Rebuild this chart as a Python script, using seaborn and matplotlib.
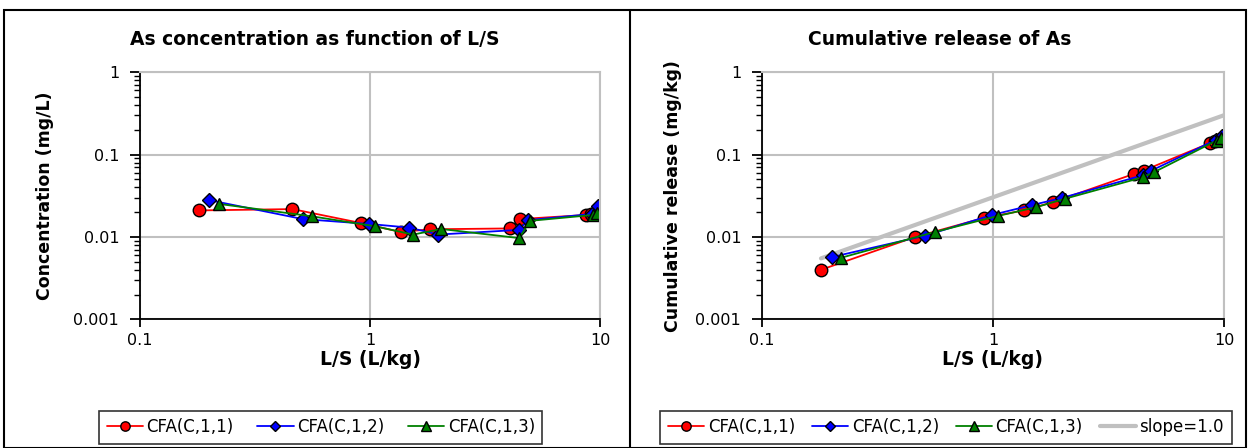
import numpy as np
import pandas as pd
import matplotlib
matplotlib.use("Agg")
import matplotlib.pyplot as plt
import seaborn as sns
from matplotlib.ticker import LogLocator, FuncFormatter, NullFormatter, NullLocator

# data
samples = ["CFA(C,1,1)", "CFA(C,1,2)", "CFA(C,1,3)"]

ls_1 = [0.18, 0.46, 0.91, 1.36, 1.82, 4.06, 4.49, 8.7, 9.1]
ls_2 = [0.20, 0.51, 0.99, 1.48, 1.98, 4.45, 4.85, 9.2, 9.8]
ls_3 = [0.22, 0.56, 1.05, 1.54, 2.04, 4.45, 4.97, 9.3, 9.7]

conc_1 = [0.021, 0.0218, 0.0148, 0.0115, 0.0124, 0.0127, 0.0165, 0.0185, 0.0192]
conc_2 = [0.028, 0.0165, 0.0144, 0.0130, 0.0107, 0.0122, 0.0160, 0.0190, 0.0240]
conc_3 = [0.0252, 0.0178, 0.0135, 0.0107, 0.0125, 0.0097, 0.0157, 0.0185, 0.0195]

cum_1 = [0.0040, 0.0100, 0.0170, 0.0210, 0.0265, 0.058, 0.064, 0.138, 0.145]
cum_2 = [0.0057, 0.0104, 0.0185, 0.0244, 0.0297, 0.056, 0.064, 0.150, 0.170]
cum_3 = [0.0056, 0.0115, 0.0180, 0.0230, 0.0290, 0.053, 0.061, 0.148, 0.158]

slope_x = [0.18, 10]
slope_y = [0.0055, 0.30]

colors = {"CFA(C,1,1)": "#ff0000", "CFA(C,1,2)": "#0000ff", "CFA(C,1,3)": "#008000"}
markers = {"CFA(C,1,1)": "o", "CFA(C,1,2)": "D", "CFA(C,1,3)": "^"}
msizes = {"CFA(C,1,1)": 9, "CFA(C,1,2)": 7, "CFA(C,1,3)": 9}

rows = []
for s, ls, c, cu in zip(samples, [ls_1, ls_2, ls_3], [conc_1, conc_2, conc_3], [cum_1, cum_2, cum_3]):
    for i in range(len(ls)):
        rows.append({"sample": s, "order": i, "ls": ls[i], "conc": c[i], "cum": cu[i]})
df = pd.DataFrame(rows)

sns.set_style("white")
plt.rcParams["font.family"] = ["DejaVu Sans"]
plt.rcParams["text.color"] = "black"
plt.rcParams["axes.labelcolor"] = "black"
plt.rcParams["xtick.color"] = "black"
plt.rcParams["ytick.color"] = "black"

fig = plt.figure(figsize=(12.5, 4.48), dpi=100)
ax1 = fig.add_axes([0.112, 0.287, 0.368, 0.552])
ax2 = fig.add_axes([0.6096, 0.287, 0.3696, 0.552])

fmt = FuncFormatter(lambda v, p: "{:g}".format(v))


def draw(ax, ycol):
    for s in samples:
        d = df[df["sample"] == s]
        sns.lineplot(data=d, x="ls", y=ycol, sort=False, ax=ax, color=colors[s],
                     marker=markers[s], markersize=msizes[s], markeredgecolor="black",
                     markeredgewidth=1, linewidth=1.3, label=s, estimator=None)
    ax.set_xscale("log")
    ax.set_yscale("log")
    ax.set_xlim(0.1, 10)
    ax.set_ylim(0.001, 1)
    ax.xaxis.set_major_locator(LogLocator(base=10, numticks=10))
    ax.yaxis.set_major_locator(LogLocator(base=10, numticks=10))
    ax.yaxis.set_minor_locator(LogLocator(base=10, subs=np.arange(2, 10), numticks=10))
    ax.xaxis.set_minor_locator(NullLocator())
    ax.yaxis.set_minor_formatter(NullFormatter())
    ax.xaxis.set_major_formatter(fmt)
    ax.yaxis.set_major_formatter(fmt)
    ax.grid(True, which="major", color="#c0c0c0", linewidth=1.5)
    for side in ["top", "right"]:
        ax.spines[side].set_color("#c0c0c0")
        ax.spines[side].set_linewidth(1.5)
    for side in ["left", "bottom"]:
        ax.spines[side].set_color("black")
        ax.spines[side].set_linewidth(1.3)
    ax.tick_params(axis="y", which="major", direction="out", length=7, width=1.3,
                   left=True, labelsize=11.5, pad=8)
    ax.tick_params(axis="y", which="minor", direction="out", length=4, width=1, left=True)
    ax.tick_params(axis="x", which="major", direction="out", length=6, width=1.3,
                   bottom=True, labelsize=11.5, pad=4)
    ax.set_axisbelow(True)


draw(ax1, "conc")
ax1.set_xlabel("L/S (L/kg)", fontsize=13.5, fontweight="bold", labelpad=1)
ax1.set_ylabel("Concentration (mg/L)", fontsize=12.5, fontweight="bold", labelpad=14)

draw(ax2, "cum")
sns.lineplot(x=slope_x, y=slope_y, ax=ax2, color="#c0c0c0", linewidth=3,
             label="slope=1.0", zorder=1)
ax2.set_xlabel("L/S (L/kg)", fontsize=13.5, fontweight="bold", labelpad=1)
ax2.set_ylabel("Cumulative release (mg/kg)", fontsize=12.5, fontweight="bold", labelpad=10)

# titles centred over each panel
fig.text(0.252, 0.911, "As concentration as function of L/S", fontsize=13.5,
         fontweight="bold", ha="center", va="center")
fig.text(0.752, 0.911, "Cumulative release of As", fontsize=13.5,
         fontweight="bold", ha="center", va="center")

for ax, nc, anchor, cs in [(ax1, 3, (0.393, -0.335), 1.4), (ax2, 4, (0.398, -0.335), 1.0)]:
    leg = ax.legend(loc="upper center", bbox_to_anchor=anchor, ncol=nc, frameon=True,
                    fancybox=False, edgecolor="black", fontsize=12, handlelength=2.2,
                    handletextpad=0.2, columnspacing=cs, borderpad=0.45, markerscale=0.75)
    leg.get_frame().set_linewidth(1.2)

# panel borders
fig.add_artist(plt.Rectangle((0.003, 0.0), 0.994, 0.978, transform=fig.transFigure,
                             fill=False, edgecolor="black", linewidth=1.5))
fig.add_artist(plt.Line2D([0.504, 0.504], [0.0, 0.978], transform=fig.transFigure,
                          color="black", linewidth=1.5))

fig.savefig("out.png", dpi=100)
